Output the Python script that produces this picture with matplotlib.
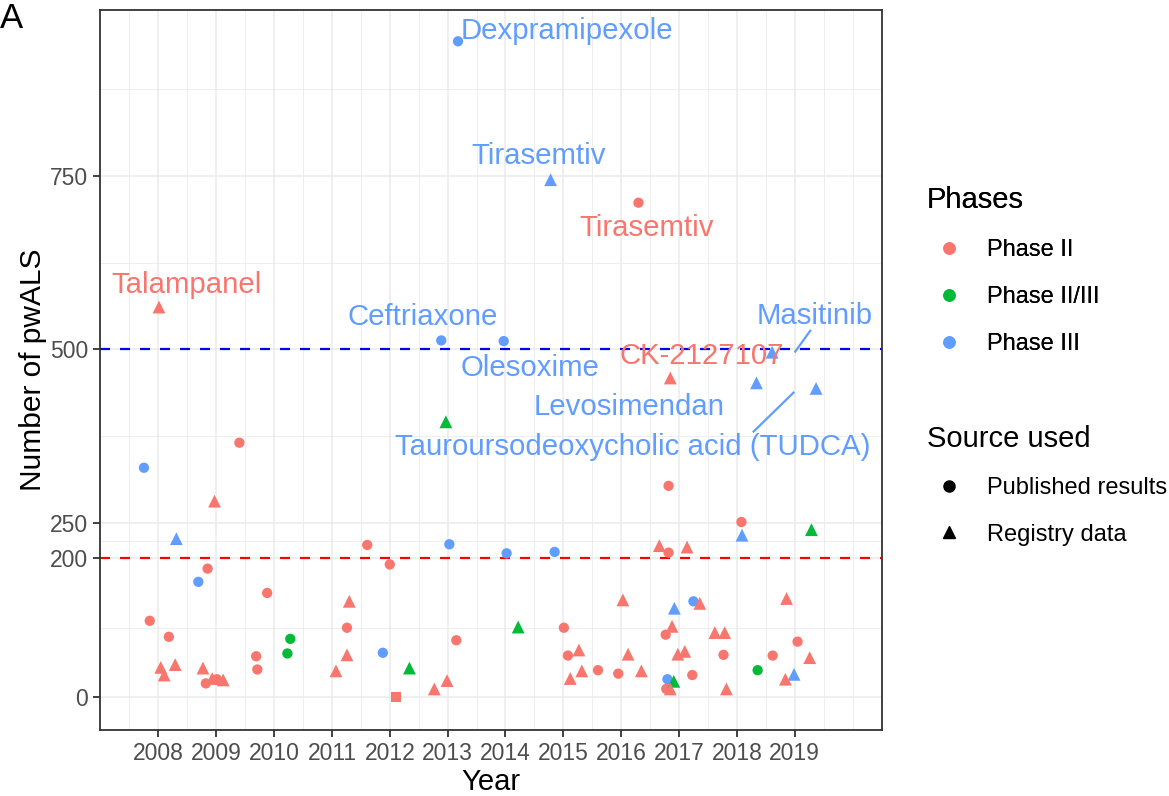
import numpy as np
import matplotlib.pyplot as plt
from matplotlib.lines import Line2D

plt.rcParams["font.family"] = ["Liberation Sans", "DejaVu Sans"]

COLORS = {"II": "#F8766D", "II/III": "#00BA38", "III": "#619CFF"}

# published results (circles)
pub_year = [2007.75, 2009.40, 2011.61, 2012.00, 2008.85, 2008.69, 2009.88, 2007.85,
            2008.18, 2011.26, 2010.28, 2010.23, 2011.88, 2009.69, 2009.71, 2008.82,
            2009.01, 2016.82, 2013.03, 2014.02, 2014.85, 2016.82, 2015.01, 2016.77,
            2013.15, 2015.08, 2015.60, 2015.95, 2016.80, 2016.78, 2018.08, 2017.25,
            2019.05, 2017.77, 2018.62, 2018.36, 2017.23, 2013.18, 2012.89, 2013.97,
            2016.30]
pub_n = [330, 366, 219, 191, 185, 166, 150, 110,
         87, 100, 84, 63, 64, 59, 40, 20,
         26, 304, 220, 207, 209, 208, 100, 90,
         82, 60, 39, 34, 26, 12, 252, 138,
         80, 61, 60, 39, 32, 943, 513, 512,
         711]
pub_phase = ["III", "II", "II", "II", "II", "III", "II", "II",
             "II", "II", "II/III", "II/III", "III", "II", "II", "II",
             "II", "II", "III", "III", "III", "II", "II", "II",
             "II", "II", "II", "II", "III", "II", "II", "III",
             "II", "II", "II", "II/III", "II", "III", "III", "III",
             "II"]

# registry data (triangles)
reg_year = [2008.97, 2008.31, 2011.30, 2011.26, 2008.04, 2008.10, 2008.29, 2008.77,
            2008.93, 2009.12, 2011.07, 2012.97, 2016.66, 2016.03, 2016.92, 2014.22,
            2016.88, 2015.27, 2016.12, 2016.98, 2012.34, 2015.32, 2016.35, 2015.12,
            2012.99, 2012.77, 2016.91, 2016.85, 2018.09, 2019.29, 2017.14, 2017.36,
            2018.86, 2017.62, 2017.79, 2017.10, 2019.26, 2018.99, 2018.84, 2017.82,
            2008.01, 2014.78, 2016.85, 2018.34, 2019.37, 2018.61]
reg_n = [282, 228, 138, 61, 43, 32, 47, 42,
         27, 25, 38, 396, 218, 140, 128, 101,
         102, 68, 62, 62, 42, 38, 38, 27,
         24, 12, 23, 12, 233, 241, 216, 135,
         142, 93, 93, 66, 57, 33, 26, 12,
         561, 744, 459, 452, 444, 496]
reg_phase = ["II", "III", "II", "II", "II", "II", "II", "II",
             "II", "II", "II", "II/III", "II", "II", "III", "II/III",
             "II", "II", "II", "II", "II/III", "II", "II", "II",
             "II", "II", "II/III", "II", "III", "II/III", "II", "II",
             "II", "II", "II", "II", "II", "III", "II", "II",
             "II", "III", "II", "III", "III", "III"]

# source not given (square)
other_year = [2012.10]
other_n = [0.5]
other_phase = ["II"]

# labelled trials
lab_text = ["Talampanel", "Dexpramipexole", "Ceftriaxone", "Olesoxime", "Tirasemtiv",
            "Tirasemtiv", "CK-2127107", "Masitinib", "Levosimendan",
            "Tauroursodeoxycholic acid (TUDCA)"]
lab_x = [2008.48, 2015.07, 2012.57, 2014.43, 2014.57, 2016.44, 2017.39, 2019.35, 2016.13, 2016.20]
lab_y = [592, 958, 546, 474, 778, 674, 490, 548, 417, 360]
lab_phase = ["II", "III", "III", "III", "III", "II", "II", "III", "III", "III"]

# repel segments (x0, y0, x1, y1)
seg_x0 = [2019.01, 2018.29]
seg_y0 = [497, 382]
seg_x1 = [2019.27, 2018.98]
seg_y1 = [527, 438]

x_ticks = list(range(2008, 2020))
y_ticks = [0, 200, 250, 500, 750]

fig = plt.figure(figsize=(11.69, 7.96), dpi=100)
ax = fig.add_axes([100 / 1169, 1 - 730 / 796, 782 / 1169, 720 / 796])

ax.set_xlim(2006.99, 2020.51)
ax.set_ylim(-47, 988)

# grid like theme_bw
for v in np.arange(2007.5, 2020.01, 0.5):
    if v not in x_ticks:
        ax.axvline(v, color="#EBEBEB", lw=0.6, zorder=0)
for v in [100, 225, 375, 625, 875]:
    ax.axhline(v, color="#EBEBEB", lw=0.6, zorder=0)
for v in x_ticks:
    ax.axvline(v, color="#EBEBEB", lw=1.1, zorder=0)
for v in y_ticks:
    ax.axhline(v, color="#EBEBEB", lw=1.1, zorder=0)

ax.axhline(500, color="#0000FF", lw=1.6, ls=(0, (4.5, 4.5)), zorder=1)
ax.axhline(200, color="#FF0000", lw=1.6, ls=(0, (4.5, 4.5)), zorder=1)

ax.scatter(pub_year, pub_n, c=[COLORS[p] for p in pub_phase], marker="o", s=55,
           linewidths=0, zorder=3)
ax.scatter(reg_year, reg_n, c=[COLORS[p] for p in reg_phase], marker="^", s=85,
           linewidths=0, zorder=3)
ax.scatter(other_year, other_n, c=[COLORS[p] for p in other_phase], marker="s", s=50,
           linewidths=0, zorder=3)

for i in range(len(seg_x0)):
    ax.plot([seg_x0[i], seg_x1[i]], [seg_y0[i], seg_y1[i]], color=COLORS["III"], lw=1.6, zorder=4)

for t, x, y, p in zip(lab_text, lab_x, lab_y, lab_phase):
    ax.text(x, y, t, color=COLORS[p], fontsize=21.2, ha="center", va="center", zorder=5)

ax.set_xticks(x_ticks)
ax.set_xticklabels([str(v) for v in x_ticks])
ax.set_yticks(y_ticks)
ax.tick_params(axis="both", labelsize=16.5, labelcolor="#4D4D4D", color="#333333",
               length=5, width=1.3)
for s in ax.spines.values():
    s.set_color("#333333")
    s.set_linewidth(1.3)

ax.set_xlabel("Year", fontsize=21, labelpad=2)
ax.set_ylabel("Number of pwALS", fontsize=21.5, labelpad=2)

fig.text(0.0, 0.997, "A", fontsize=25, ha="left", va="top")

phase_handles = [Line2D([], [], marker="o", ls="", color=COLORS[p], markersize=8)
                 for p in ["II", "II/III", "III"]]
leg1 = fig.legend(phase_handles, ["Phase II", "Phase II/III", "Phase III"],
                  title="Phases", loc="upper left", bbox_to_anchor=(927 / 1169, 1 - 186 / 796),
                  frameon=False, fontsize=17, title_fontsize=21, alignment="left",
                  handlelength=1.85, handletextpad=0.68, labelspacing=1.06, borderpad=0,
                  borderaxespad=0)
fig.add_artist(leg1)
src_handles = [Line2D([], [], marker="o", ls="", color="black", markersize=8),
               Line2D([], [], marker="^", ls="", color="black", markersize=9)]
fig.legend(src_handles, ["Published results", "Registry data"],
           title="Source used", loc="upper left", bbox_to_anchor=(927 / 1169, 1 - 425 / 796),
           frameon=False, fontsize=17, title_fontsize=21, alignment="left",
           handlelength=1.85, handletextpad=0.68, labelspacing=1.03, borderpad=0,
           borderaxespad=0)

fig.savefig("out.png", dpi=100)
